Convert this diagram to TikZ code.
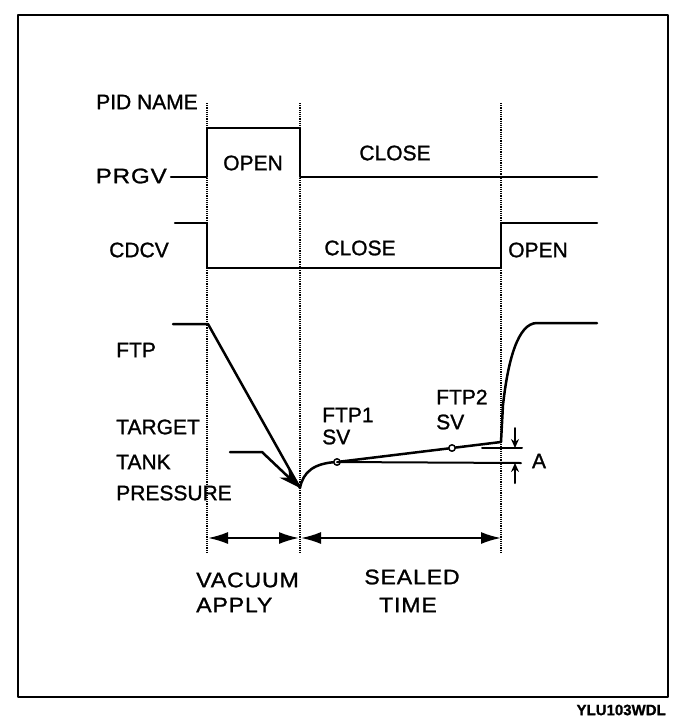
\documentclass[tikz,border=0pt]{standalone}
\usepackage{fontspec}
\setmainfont{Liberation Sans}[FakeBold=1.2]
\usetikzlibrary{arrows.meta}

\begin{document}
\begin{tikzpicture}[line width=2.5pt, line cap=round, line join=round, >=Stealth, x=1pt, y=-1pt,
  lbl/.style={font=\fontsize{21}{24}\selectfont, inner sep=0pt},
  lblw/.style={lbl, anchor=west},
  wide/.style={font=\fontsize{21}{24}\selectfont\addfontfeature{FakeStretch=#1,LetterSpace=4}},
  guide/.style={line width=1.2pt, densely dotted, line cap=butt},
  spantip/.tip={Latex[length=20pt,width=12pt]},
  dimtip/.tip={Stealth[length=9pt,width=8pt]}]
  \useasboundingbox (0,0) rectangle (688,724);
  \draw (18,15) rectangle (668,697);
  % time marks
  \foreach \t/\x in {ta/207,tb/300,tc/501} {
    \coordinate (\t top) at (\x,103);
    \coordinate (\t bot) at (\x,553);
    \draw[guide] (\t top) -- (\t bot);
  }
  % signal names
  \node[lblw] (pidname) at (95,102) {PID NAME};
  \node[lbl, wide=1.15, anchor=east] (prgv) at (168,176) {PRGV};
  \node[lbl] (cdcv) at (139,250) {CDCV};
  \node[lblw] (ftp) at (115,350) {FTP};
  \node[lblw] (target) at (115,427) {TARGET};
  \node[lblw] (tank) at (115,462) {TANK};
  \node[lblw] (pressure) at (115,493) {PRESSURE};
  % valve states
  \node[lbl] (prgvopen) at (253,163) {OPEN};
  \node[lbl] (prgvclose) at (395,153) {CLOSE};
  \node[lbl] (cdcvclose) at (360,248) {CLOSE};
  \node[lbl] (cdcvopen) at (538,250) {OPEN};
  \draw (171,177) -- (207,177) -- (207,128) -- (300,128) -- (300,177) -- (597,177);
  \draw (175,223) -- (207,223) -- (207,268) -- (501,268) -- (501,223) -- (597,223);
  % pressure trace
  \coordinate (tmin) at (300,488);
  \coordinate (sv1) at (337,462);
  \coordinate (sv2) at (452,448);
  \draw (173,324) -- (208,324) -- (tmin) .. controls (303,472) and (314,463) .. (sv1)
    -- (sv2) -- (501,442) -- (503,405) .. controls (508,360) and (518,323) .. (537,323) -- (597,323);
  \draw[-{Stealth[length=22pt,width=13pt]}] (230,452) -- (262,452) -- (tmin);
  \draw[line width=1.5pt, fill=white] (sv1) circle (3.2) (sv2) circle (3.2);
  \node[lblw] (ftp1) at (321,415) {FTP1};
  \node[lblw] (ftp1sv) at (321,437) {SV};
  \node[lblw] (ftp2) at (435,397) {FTP2};
  \node[lblw] (ftp2sv) at (435,422) {SV};
  % difference A
  \coordinate (ahigh) at (515,448);
  \coordinate (alow) at (515,463);
  \draw[line width=2pt] (sv1) -- (521,463);
  \draw[line width=2pt] (482,448) -- (522,448);
  \draw[line width=2pt, -dimtip] (515,428) -- (ahigh);
  \draw[line width=2pt, -dimtip] (515,483) -- (alow);
  \node[lbl] (adiff) at (539,461) {A};
  % periods
  \draw[line width=2pt, spantip-spantip] (208,538) -- (299,538);
  \draw[line width=2pt, spantip-spantip] (301,538) -- (501,538);
  \node[lblw, wide=1.1] (vacuum) at (195,580) {VACUUM};
  \node[lblw, wide=1.1] (apply) at (195,605) {APPLY};
  \node[lbl, wide=1.1] (sealed) at (412,577) {SEALED};
  \node[lbl, wide=1.1] (sealtime) at (408,605) {TIME};
  \node[font=\fontsize{15}{18}\selectfont\bfseries, inner sep=0pt, anchor=east] (figcode) at (667,710) {YLU103WDL};
\end{tikzpicture}
\end{document}
